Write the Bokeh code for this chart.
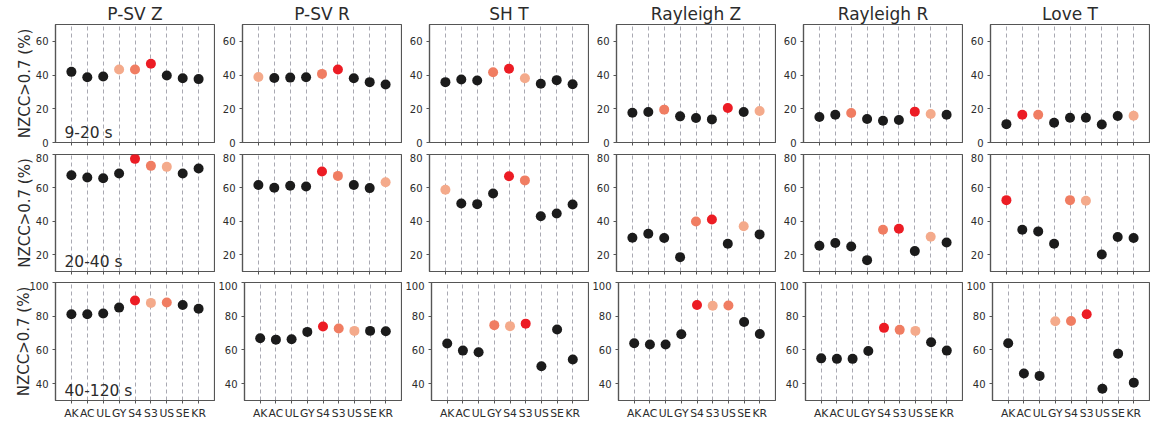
import numpy as np
from bokeh.plotting import figure
from bokeh.layouts import column, row
from bokeh.models import Range1d, FixedTicker, Label, ColumnDataSource
from bokeh.embed import file_html
from bokeh.resources import INLINE

stations = ["AK", "AC", "UL", "GY", "S4", "S3", "US", "SE", "KR"]
components = ["P-SV Z", "P-SV R", "SH T", "Rayleigh Z", "Rayleigh R", "Love T"]
periods = ["9-20 s", "20-40 s", "40-120 s"]
y_ranges = [(0, 70), (10, 80), (30, 100)]
y_ticks = [[0, 20, 40, 60], [20, 40, 60, 80], [40, 60, 80, 100]]
y_label = "NZCC>0.7 (%)"

# values: one list per period (rows), stations in order above
psv_z = [[41.9, 38.7, 39.1, 43.3, 43.3, 46.7, 39.7, 38.1, 37.6],
         [67.6, 66.2, 65.8, 68.6, 77.4, 73.2, 72.6, 68.6, 71.6],
         [81.2, 81.2, 81.6, 85.1, 89.3, 87.9, 88.1, 86.7, 84.4]]
psv_r = [[38.9, 38.3, 38.5, 38.7, 40.7, 43.3, 38.1, 35.8, 34.4],
         [61.7, 60.1, 61.3, 60.9, 69.8, 67.2, 61.7, 59.9, 63.4],
         [66.9, 66.1, 66.3, 70.7, 73.9, 72.7, 71.3, 71.3, 71.1]]
sh_t = [[35.8, 37.4, 36.8, 41.7, 43.7, 38.1, 34.8, 37.0, 34.6],
        [58.9, 50.7, 50.3, 56.7, 67.0, 64.5, 43.1, 44.7, 50.1],
        [63.8, 59.6, 58.6, 74.7, 74.1, 75.6, 50.3, 72.1, 54.3]]
ray_z = [[17.7, 18.1, 19.5, 15.5, 14.5, 13.7, 20.5, 18.1, 18.7],
         [30.2, 32.6, 30.0, 18.6, 39.9, 41.1, 26.6, 37.1, 32.2],
         [64.0, 63.2, 63.2, 69.3, 86.7, 86.2, 86.4, 76.6, 69.5]]
ray_r = [[15.1, 16.5, 17.5, 13.9, 12.9, 13.3, 18.3, 16.9, 16.5],
         [25.4, 27.0, 25.0, 16.8, 35.0, 35.6, 22.2, 30.8, 27.4],
         [55.0, 54.7, 54.7, 59.4, 73.1, 71.9, 71.3, 64.6, 59.6]]
love_t = [[10.9, 16.5, 16.5, 11.7, 14.7, 14.7, 10.7, 15.7, 15.9],
          [52.7, 35.0, 34.0, 26.6, 52.7, 52.3, 20.2, 30.6, 30.0],
          [64.0, 46.0, 44.6, 77.0, 77.2, 81.2, 37.0, 57.8, 40.6]]

# highlight rank: 0 none, 1 best, 2 second, 3 third
psv_z_rank = [[0, 0, 0, 3, 2, 1, 0, 0, 0], [0, 0, 0, 0, 1, 2, 3, 0, 0], [0, 0, 0, 0, 1, 3, 2, 0, 0]]
psv_r_rank = [[3, 0, 0, 0, 2, 1, 0, 0, 0], [0, 0, 0, 0, 1, 2, 0, 0, 3], [0, 0, 0, 0, 1, 2, 3, 0, 0]]
sh_t_rank = [[0, 0, 0, 2, 1, 3, 0, 0, 0], [3, 0, 0, 0, 1, 2, 0, 0, 0], [0, 0, 0, 2, 3, 1, 0, 0, 0]]
ray_z_rank = [[0, 0, 2, 0, 0, 0, 1, 0, 3], [0, 0, 0, 0, 2, 1, 0, 3, 0], [0, 0, 0, 0, 1, 3, 2, 0, 0]]
ray_r_rank = [[0, 0, 2, 0, 0, 0, 1, 3, 0], [0, 0, 0, 0, 2, 1, 0, 3, 0], [0, 0, 0, 0, 1, 2, 3, 0, 0]]
love_t_rank = [[0, 1, 2, 0, 0, 0, 0, 0, 3], [1, 0, 0, 0, 2, 3, 0, 0, 0], [0, 0, 0, 3, 2, 1, 0, 0, 0]]

all_values = [psv_z, psv_r, sh_t, ray_z, ray_r, love_t]
all_ranks = [psv_z_rank, psv_r_rank, sh_t_rank, ray_z_rank, ray_r_rank, love_t_rank]

palette = ["#1b1b1b", "#ec1c24", "#f07d62", "#f4aa8b"]

FONT = "DejaVu Sans"
TXT = "#2b2b2b"
EDGE = "#555555"

FRAME_W = 159
FRAME_H = [118, 117, 118]
LEFT_FIRST = 55
LEFT_OTHER = 27
RIGHT = 1
TOP = [24, 1, 1]
BOTTOM = [11, 10, 22]

xs = np.arange(len(stations))

rows = []
for r in range(3):
    figs = []
    for c in range(6):
        left = LEFT_FIRST if c == 0 else LEFT_OTHER
        p = figure(width=left + FRAME_W + RIGHT,
                   height=TOP[r] + FRAME_H[r] + BOTTOM[r],
                   output_backend="svg", toolbar_location=None,
                   x_range=Range1d(-1, len(stations)),
                   y_range=Range1d(*y_ranges[r]),
                   min_border_left=left, min_border_right=RIGHT,
                   min_border_top=TOP[r], min_border_bottom=BOTTOM[r])
        p.background_fill_color = "white"
        p.border_fill_color = "white"
        p.outline_line_color = EDGE
        p.outline_line_width = 1.2
        p.outline_line_alpha = 1

        p.xaxis.ticker = FixedTicker(ticks=list(xs))
        p.yaxis.ticker = FixedTicker(ticks=y_ticks[r])
        for ax in (p.xaxis[0], p.yaxis[0]):
            ax.axis_line_color = EDGE
            ax.axis_line_width = 1.2
            ax.major_tick_line_color = EDGE
            ax.major_tick_in = 0
            ax.major_tick_out = 3
            ax.minor_tick_line_color = None
            ax.major_label_text_font = FONT
            ax.major_label_text_font_size = "10px"
            ax.major_label_text_color = TXT
            ax.major_label_standoff = 4
        if r == 2:
            p.xaxis.major_label_overrides = {int(i): s for i, s in zip(xs, stations)}
            p.xaxis.major_label_standoff = 3
            p.xaxis.major_label_text_font_size = "10.8px"
        else:
            p.xaxis.major_label_text_color = None

        if c == 0:
            p.yaxis.axis_label = y_label
            p.yaxis.axis_label_text_font = FONT
            p.yaxis.axis_label_text_font_size = "15px"
            p.yaxis.axis_label_text_font_style = "normal"
            p.yaxis.axis_label_text_color = TXT
            p.yaxis.axis_label_standoff = -7 if r == 2 else -1

        if r == 0:
            p.title.text = components[c]
            p.title.align = "center"
            p.title.text_font = FONT
            p.title.text_font_size = "17px"
            p.title.text_font_style = "normal"
            p.title.text_color = TXT
            p.title.standoff = 1
            p.title.offset = 0

        p.ygrid.visible = False
        p.xgrid.grid_line_color = "#a9a9b2"
        p.xgrid.grid_line_dash = "4 3"
        p.xgrid.grid_line_width = 1

        vals = all_values[c][r]
        ranks = all_ranks[c][r]
        src = ColumnDataSource(dict(x=xs, y=vals, color=[palette[k] for k in ranks]))
        p.scatter("x", "y", source=src, size=10, fill_color="color", line_color=None)

        if c == 0:
            p.add_layout(Label(x=-1, y=y_ranges[r][0], x_offset=9, y_offset=10,
                               text=periods[r], text_align="left",
                               text_baseline="alphabetic", text_font=FONT,
                               text_font_size="15.5px", text_color=TXT))
        figs.append(p)
    rows.append(row(*figs, spacing=0))

layout = column(*rows, spacing=0)
open("out.html", "w").write(file_html(layout, INLINE))
